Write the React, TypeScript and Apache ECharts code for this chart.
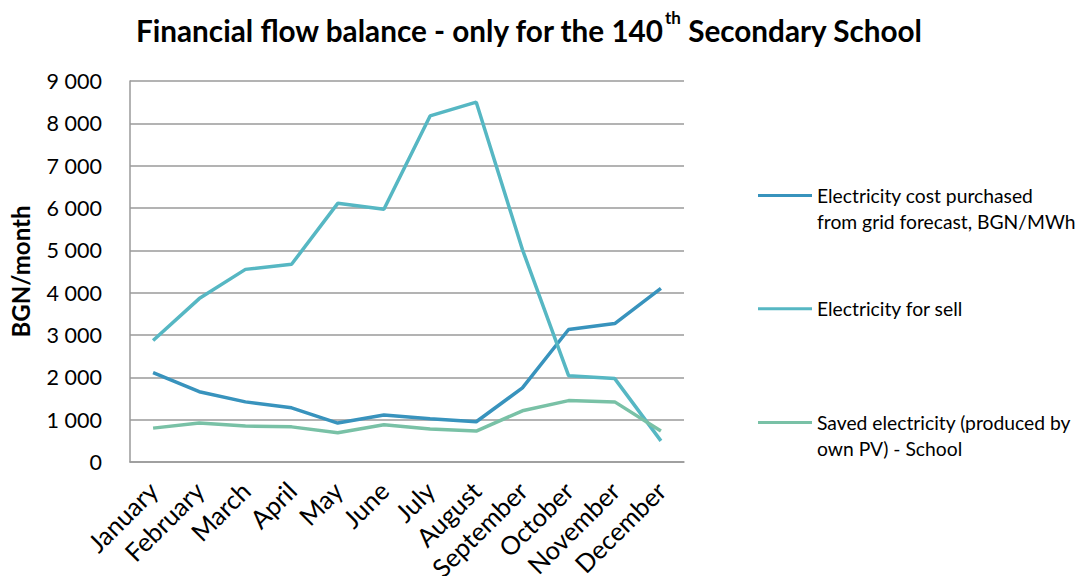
import React, { useEffect, useRef } from "react";
import * as echarts from "echarts";

const months = ["January", "February", "March", "April", "May", "June", "July", "August", "September", "October", "November", "December"];
const costPurchased = [2110, 1660, 1420, 1280, 920, 1110, 1020, 950, 1750, 3130, 3270, 4100];
const forSell = [2870, 3860, 4550, 4670, 6110, 5970, 8175, 8500, 5020, 2040, 1970, 500];
const savedPV = [800, 920, 850, 830, 690, 880, 780, 730, 1210, 1450, 1420, 730];
const yTicks = [0, 1000, 2000, 3000, 4000, 5000, 6000, 7000, 8000, 9000];

const nameCost = "Electricity cost purchased\nfrom grid forecast, BGN/MWh";
const nameSell = "Electricity for sell";
const nameSaved = "Saved electricity (produced by\nown PV) - School";

const FONT = "Lato, 'Open Sans', sans-serif";
// line at top of a taller box so the icon lines up with the first text line
const TOP_LINE_ICON = "path://M0,0H54V3H0Z M0,28.99H0.01V29H0Z";

export default function App() {
  const ref = useRef<HTMLDivElement>(null);
  useEffect(() => {
    if (!ref.current) return;
    const chart = echarts.init(ref.current, undefined, { renderer: "svg" });
    const txt = { fontFamily: FONT, fontSize: 19.3, color: "#000", lineHeight: 25.5 };
    const legendBase = {
      orient: "vertical" as const,
      left: 758,
      padding: 0,
      itemGap: 0,
      symbolKeepAspect: false,
      textStyle: txt,
    };
    chart.setOption({
      animation: false,
      textStyle: { fontFamily: FONT },
      title: {
        text: "{a|Financial flow balance - only for the 140}{s|th}{a| Secondary School}",
        left: 131,
        top: 4,
        textStyle: {
          rich: {
            a: { fontFamily: FONT, fontSize: 29.7, fontWeight: "bold", color: "#000", lineHeight: 36, verticalAlign: "bottom" },
            s: { fontFamily: FONT, fontSize: 17, fontWeight: "bold", color: "#000", lineHeight: 36, verticalAlign: "top", padding: [0, 0, 8, 0] },
          },
        },
      },
      legend: [
        { ...legendBase, data: [nameCost], top: 183, icon: TOP_LINE_ICON, itemWidth: 54, itemHeight: 29 },
        { ...legendBase, data: [nameSell], top: 296, icon: "rect", itemWidth: 54, itemHeight: 3 },
        { ...legendBase, data: [nameSaved], top: 410, icon: TOP_LINE_ICON, itemWidth: 54, itemHeight: 29 },
      ],
      grid: { left: 130, right: 397, top: 81, bottom: 114, containLabel: false, outerBoundsMode: "none" },
      xAxis: {
        type: "category",
        data: months,
        boundaryGap: true,
        axisLine: { show: true, lineStyle: { color: "#9a9a9a", width: 1.5 } },
        axisTick: { show: false },
        axisLabel: { rotate: 45, fontFamily: FONT, fontSize: 25.5, color: "#000", margin: 24, interval: 0 },
      },
      yAxis: {
        type: "value",
        min: 0,
        max: 9000,
        interval: 1000,
        name: "BGN/month",
        nameLocation: "middle",
        nameGap: 98,
        nameTextStyle: { fontFamily: FONT, fontSize: 24, fontWeight: "bold", color: "#000" },
        axisLine: { show: true, lineStyle: { color: "#9a9a9a", width: 1.5 } },
        axisTick: { show: false },
        splitLine: { show: true, lineStyle: { color: "#9a9a9a", width: 1.5 } },
        axisLabel: {
          fontFamily: FONT,
          fontSize: 21.5,
          color: "#000",
          margin: 28,
          formatter: (v: number) => (yTicks.includes(v) ? String(v).replace(/\B(?=(\d{3})+(?!\d))/g, " ") : ""),
        },
      },
      series: [
        { name: nameCost, type: "line", data: costPurchased, symbol: "none", lineStyle: { width: 3.5, color: "#3893BD" }, itemStyle: { color: "#3893BD" } },
        { name: nameSell, type: "line", data: forSell, symbol: "none", lineStyle: { width: 3.5, color: "#56B7C3" }, itemStyle: { color: "#56B7C3" } },
        { name: nameSaved, type: "line", data: savedPV, symbol: "none", lineStyle: { width: 3.5, color: "#79C1A6" }, itemStyle: { color: "#79C1A6" } },
      ],
    });
    return () => chart.dispose();
  }, []);
  return <div ref={ref} style={{ width: 1081, height: 576, position: "absolute", left: 0, top: 0, overflow: "hidden" }} />;
}
